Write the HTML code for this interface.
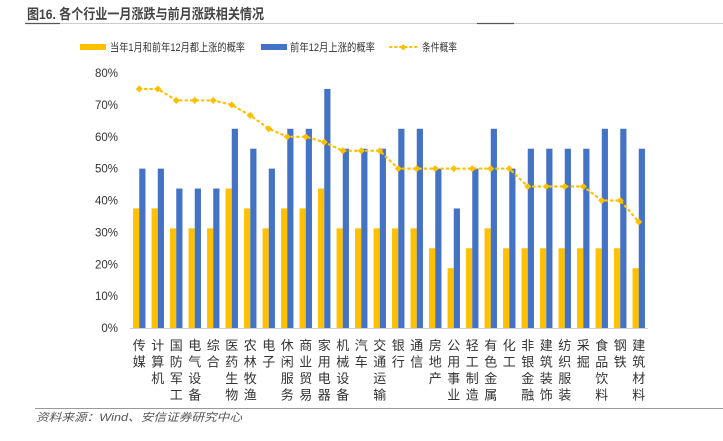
<!DOCTYPE html>
<html><head><meta charset="utf-8"><style>
body{margin:0;background:#fff;width:723px;height:436px;overflow:hidden;font-family:"Liberation Sans","Noto Sans CJK SC",sans-serif;}
</style></head><body>
<svg id="c" width="723" height="436" xmlns="http://www.w3.org/2000/svg" font-family="Liberation Sans, Noto Sans CJK SC, sans-serif">
<text x="27" y="19" font-size="14" font-weight="bold" fill="#444" textLength="237" lengthAdjust="spacingAndGlyphs">图16. 各个行业一月涨跌与前月涨跌相关情况</text>
<line x1="25" y1="23.5" x2="723" y2="23.5" stroke="#ccc" stroke-width="1"/>
<line x1="25" y1="23.5" x2="60" y2="23.5" stroke="#555" stroke-width="1.2"/>
<line x1="477" y1="23.5" x2="514" y2="23.5" stroke="#555" stroke-width="1.2"/>
<g font-size="11" fill="#333">
<rect x="80" y="44" width="26" height="6" fill="#FFC000"/>
<text x="110" y="51" textLength="135" lengthAdjust="spacingAndGlyphs">当年1月和前年12月都上涨的概率</text>
<rect x="261" y="44" width="26" height="6" fill="#4472C4"/>
<text x="290" y="51" textLength="85" lengthAdjust="spacingAndGlyphs">前年12月上涨的概率</text>
<line x1="390" y1="47" x2="417" y2="47" stroke="#FFC000" stroke-width="2" stroke-dasharray="1.5,3.5" stroke-linecap="round"/>
<rect x="401" y="45" width="4.5" height="4.5" fill="#FFC000" transform="rotate(45 403.2 47.2)"/>
<text x="422" y="51" textLength="35" lengthAdjust="spacingAndGlyphs">条件概率</text>
</g>
<g id="plot"></g>
<line x1="35" y1="408.5" x2="723" y2="408.5" stroke="#999" stroke-width="1"/>
<text x="36" y="421" font-size="11" font-style="italic" fill="#555" textLength="206" lengthAdjust="spacingAndGlyphs">资料来源：Wind、安信证券研究中心</text>
</svg>
<script>
const categories=["传媒","计算机","国防军工","电气设备","综合","医药生物","农林牧渔","电子","休闲服务","商业贸易","家用电器","机械设备","汽车","交通运输","银行","通信","房地产","公用事业","轻工制造","有色金属","化工","非银金融","建筑装饰","纺织服装","采掘","食品饮料","钢铁","建筑材料"];
const bothVals=[37.5,37.5,31.25,31.25,31.25,43.75,37.5,31.25,37.5,37.5,43.75,31.25,31.25,31.25,31.25,31.25,25,18.75,25,31.25,25,25,25,25,25,25,25,18.75];
const prevVals=[50,50,43.75,43.75,43.75,62.5,56.25,50,62.5,62.5,75,56.25,56.25,56.25,62.5,62.5,50,37.5,50,62.5,50,56.25,56.25,56.25,56.25,62.5,62.5,56.25];
const condVals=[75,75,71.4,71.4,71.4,70,66.7,62.5,60,60,58.3,55.6,55.6,55.6,50,50,50,50,50,50,50,44.4,44.4,44.4,44.4,40,40,33.3];
const yTicks=[0,10,20,30,40,50,60,70,80];
const NS="http://www.w3.org/2000/svg";
const g=document.getElementById('plot');
const x0=130,x1=648,y0=328,yTop=73;
const pitch=(x1-x0)/categories.length;
const y=v=>y0-(v/80)*(y0-yTop);
const cx=i=>x0+pitch*(i+0.5);
function mk(t,a){const e=document.createElementNS(NS,t);for(const k in a)e.setAttribute(k,a[k]);g.appendChild(e);return e;}
yTicks.forEach(t=>{const e=mk('text',{x:118,y:y(t)+4,'text-anchor':'end','font-size':11.5,fill:'#333'});e.textContent=t+'%';

});
categories.forEach((c,i)=>{
const b=mk('rect',{x:cx(i)-6.2,y:y(bothVals[i]),width:6.2,height:y0-y(bothVals[i]),fill:'#FFC000'});


const p=mk('rect',{x:cx(i),y:y(prevVals[i]),width:6.2,height:y0-y(prevVals[i]),fill:'#4472C4'});


[...c].forEach((ch,j)=>{const t=mk('text',{x:cx(i),y:350+j*16.5,'text-anchor':'middle','font-size':13,fill:'#333'});t.textContent=ch;

});
});
const ax=mk('line',{x1:x0,y1:y0+0.5,x2:x1,y2:y0+0.5,stroke:'#d0d0d0','stroke-width':1});


const ln=mk('polyline',{points:condVals.map((v,i)=>cx(i)+','+y(v)).join(' '),fill:'none',stroke:'#FFC000','stroke-width':2.2,'stroke-dasharray':'1.5,4','stroke-linecap':'round'});


condVals.forEach((v,i)=>{const m=mk('rect',{x:cx(i)-2.5,y:y(v)-2.5,width:5,height:5,fill:'#FFC000',transform:`rotate(45 ${cx(i)} ${y(v)})`});

});
</script>
</body></html>
